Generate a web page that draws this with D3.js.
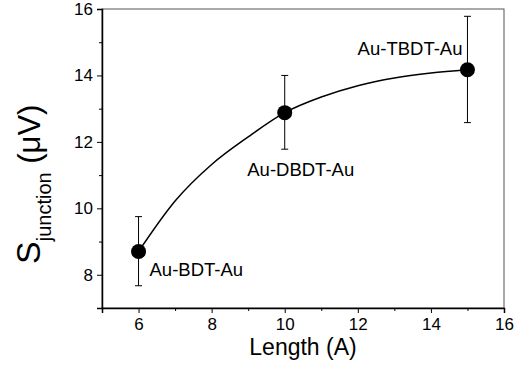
<!DOCTYPE html>
<html>
<head>
<meta charset="utf-8">
<script src="https://cdn.jsdelivr.net/npm/d3@7"></script>
<style>
  html, body { margin: 0; padding: 0; background: #fff; }
  svg { display: block; font-family: "Liberation Sans", Arial, sans-serif; }
</style>
</head>
<body>
<svg id="chart" width="523" height="378"></svg>
<script>
// Data
const lengths = [6, 10, 15];
const seebeck = [8.70, 12.88, 14.17];
const errLow = [7.67, 11.78, 12.58];
const errHigh = [9.75, 14.0, 15.78];
const labels = ["Au-BDT-Au", "Au-DBDT-Au", "Au-TBDT-Au"];
// fitted curve
const fitX = [6, 7, 8, 9, 10, 11, 12, 13, 14, 15];
const fitY = [8.7, 10.22, 11.32, 12.15, 12.88, 13.35, 13.69, 13.92, 14.07, 14.17];
const xTicks = [6, 8, 10, 12, 14, 16];
const yTicks = [8, 10, 12, 14, 16];

const W = 523, H = 378;
const m = { left: 102, right: 19, top: 9, bottom: 70 };
const svg = d3.select("#chart");

const x = d3.scaleLinear().domain([5, 16]).range([m.left, W - m.right]);
const y = d3.scaleLinear().domain([7, 16]).range([H - m.bottom, m.top]);

// frame top/right
svg.append("rect")
  .attr("x", x(5)).attr("y", y(16))
  .attr("width", x(16) - x(5)).attr("height", y(7) - y(16))
  .attr("fill", "none").attr("stroke", "#555").attr("stroke-width", 1);

// X axis
const gx = svg.append("g").attr("transform", `translate(0,${y(7)})`);
gx.call(d3.axisBottom(x).tickValues(xTicks).tickSize(5).tickPadding(5).tickFormat(d3.format("d")));
gx.append("g").call(d3.axisBottom(x).tickValues([5,7,9,11,13,15]).tickSize(3).tickFormat(""))
  .select(".domain").remove();
// Y axis
const gy = svg.append("g").attr("transform", `translate(${x(5)},0)`);
gy.call(d3.axisLeft(y).tickValues(yTicks).tickSize(5).tickPadding(4).tickFormat(d3.format("d")));
gy.append("g").call(d3.axisLeft(y).tickValues([7,9,11,13,15]).tickSize(3).tickFormat(""))
  .select(".domain").remove();

svg.selectAll(".domain").attr("stroke", "#000").attr("stroke-width", 1.5);
svg.selectAll(".tick line").attr("stroke", "#000").attr("stroke-width", 1);
svg.selectAll(".tick text").attr("font-size", 17).attr("fill", "#000")
  .attr("font-family", "Liberation Sans, Arial, sans-serif");

// fit line
const line = d3.line().x((d, i) => x(fitX[i])).y(d => y(d)).curve(d3.curveMonotoneX);
svg.append("path").datum(fitY).attr("d", line)
  .attr("fill", "none").attr("stroke", "#000").attr("stroke-width", 1.5);

// error bars
const eb = svg.append("g").attr("stroke", "#000").attr("stroke-width", 1);
lengths.forEach((L, i) => {
  eb.append("line").attr("x1", x(L)).attr("x2", x(L)).attr("y1", y(errLow[i])).attr("y2", y(errHigh[i]));
  eb.append("line").attr("x1", x(L) - 3.5).attr("x2", x(L) + 3.5).attr("y1", y(errLow[i])).attr("y2", y(errLow[i]));
  eb.append("line").attr("x1", x(L) - 3.5).attr("x2", x(L) + 3.5).attr("y1", y(errHigh[i])).attr("y2", y(errHigh[i]));
});

// points
svg.selectAll("circle.pt").data(lengths).enter().append("circle")
  .attr("cx", d => x(d)).attr("cy", (d, i) => y(seebeck[i])).attr("r", 7.5).attr("fill", "#000");

// labels
const lblPos = [
  { dx: 11, dy: 24.5, anchor: "start" },
  { dx: 16, dy: 63.5, anchor: "middle" },
  { dx: -5, dy: -14.5, anchor: "end" }
];
labels.forEach((t, i) => {
  svg.append("text")
    .attr("x", x(lengths[i]) + lblPos[i].dx)
    .attr("y", y(seebeck[i]) + lblPos[i].dy)
    .attr("text-anchor", lblPos[i].anchor)
    .attr("font-size", 18.5).attr("fill", "#000").text(t);
});

// x title
svg.append("text").attr("x", (x(5) + x(16)) / 2).attr("y", 355)
  .attr("text-anchor", "middle").attr("font-size", 23).text("Length (A)");

// y title
const yt = svg.append("text")
  .attr("transform", `translate(40,264) rotate(-90)`)
  .attr("text-anchor", "start");
yt.append("tspan").attr("font-size", 34).text("S");
yt.append("tspan").attr("font-size", 20).attr("dy", 11).text("junction");
yt.append("tspan").attr("font-size", 31).attr("dy", -11).text(" (μV)");
</script>
</body>
</html>
